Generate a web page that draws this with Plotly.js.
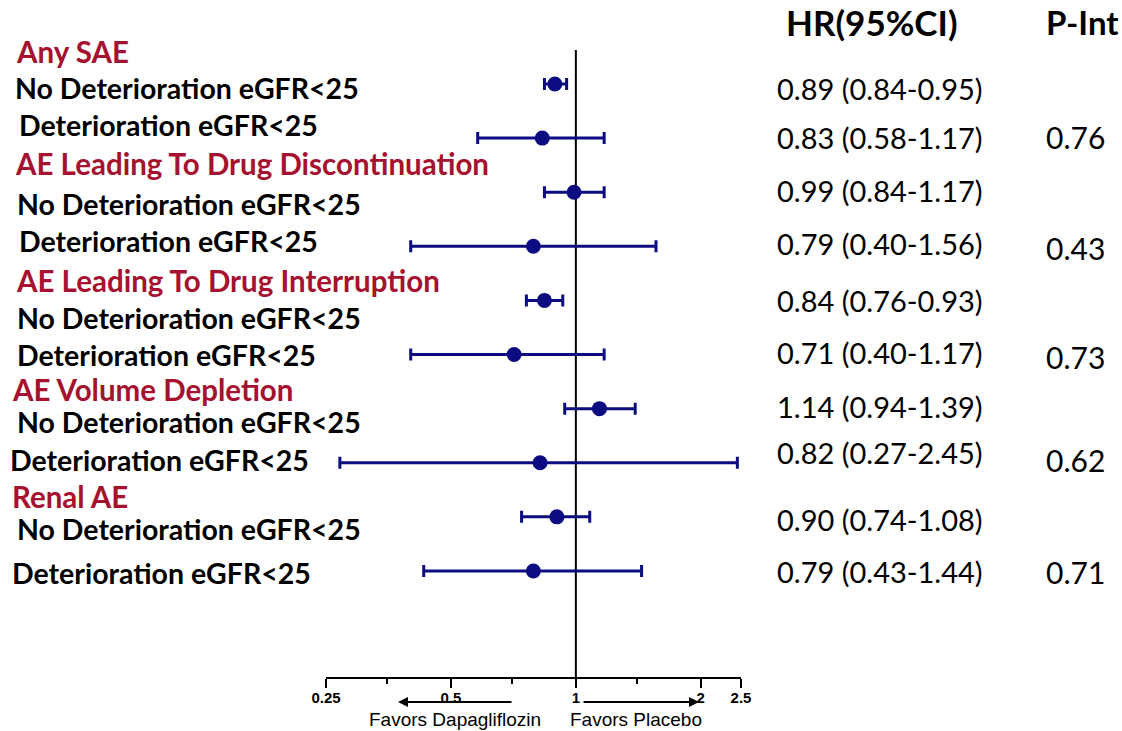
<!DOCTYPE html>
<html>
<head>
<meta charset="utf-8">
<script src="https://cdn.plot.ly/plotly-3.0.1.min.js"></script>
<style>html,body{margin:0;padding:0;background:#fff;}#chart{width:1122px;height:731px;}</style>
</head>
<body>
<div id="chart"></div>
<script>
// ---- data ----
const groups = ["Any SAE", "AE Leading To Drug Discontinuation", "AE Leading To Drug Interruption", "AE Volume Depletion", "Renal AE"];
const subgroups = ["No Deterioration eGFR<25", "Deterioration eGFR<25"];
const hr = [0.89, 0.83, 0.99, 0.79, 0.84, 0.71, 1.14, 0.82, 0.90, 0.79];
const lo = [0.84, 0.58, 0.84, 0.40, 0.76, 0.40, 0.94, 0.27, 0.74, 0.43];
const hi = [0.95, 1.17, 1.17, 1.56, 0.93, 1.17, 1.39, 2.45, 1.08, 1.44];
const pInt = ["0.76", "0.43", "0.73", "0.62", "0.71"];
const tickVals = [0.25, 0.5, 1, 2, 2.5];
const tickText = ["0.25", "0.5", "1", "2", "2.5"];
const minorTickVals = [0.35, 0.7, 1.4];
const leftLabel = "Favors Dapagliflozin";
const rightLabel = "Favors Placebo";
const hrHeader = "HR(95%CI)";
const pHeader = "P-Int";

// ---- layout constants (pixels) ----
const W = 1122, H = 731;
const NAVY = "#0c0c80", RED = "#a5112e";
const rowIdx = hr.map((_, i) => i);
const yRange = [10.96, -0.628];
const px = v => v / W;
const py = v => 1 - v / H;
const headerPos = [[14, 52], [13, 163], [14, 281], [10, 389], [10, 496]];
const noDetPos = [[13, 88], [15, 204], [15, 318], [15, 422], [15, 529]];
const detPos = [[17, 125], [17, 241], [15, 355], [8, 460], [10, 573]];
const hrTextY = [88, 137, 190, 244, 300, 352, 407, 452, 519, 571];
const pTextY = [137, 248, 357, 460, 572];

const FAM = "Lato, 'Open Sans', sans-serif";
const labelFont = {family: FAM, size: 28.5, color: "#000", weight: 700};
const headFont = {family: FAM, size: 29.5, color: RED, weight: 700};
const numFont = {family: FAM, size: 29, color: "#000"};
const pFont = {family: FAM, size: 30, color: "#000"};

const annotations = [];
groups.forEach((g, k) => {
  annotations.push({text: g, xref: "paper", yref: "paper", x: px(headerPos[k][0]), y: py(headerPos[k][1]),
    xanchor: "left", yanchor: "middle", showarrow: false, font: headFont});
  annotations.push({text: subgroups[0], xref: "paper", yref: "paper", x: px(noDetPos[k][0]), y: py(noDetPos[k][1]),
    xanchor: "left", yanchor: "middle", showarrow: false, font: labelFont});
  annotations.push({text: subgroups[1], xref: "paper", yref: "paper", x: px(detPos[k][0]), y: py(detPos[k][1]),
    xanchor: "left", yanchor: "middle", showarrow: false, font: labelFont});
  annotations.push({text: pInt[k], xref: "paper", yref: "paper", x: px(1044), y: py(pTextY[k]),
    xanchor: "left", yanchor: "middle", showarrow: false, font: pFont});
});
hr.forEach((v, i) => {
  annotations.push({text: v.toFixed(2) + " (" + lo[i].toFixed(2) + "-" + hi[i].toFixed(2) + ")",
    xref: "paper", yref: "paper", x: px(775), y: py(hrTextY[i]),
    xanchor: "left", yanchor: "middle", showarrow: false, font: numFont});
});
annotations.push({text: hrHeader, xref: "paper", yref: "paper", x: px(872), y: py(22), xanchor: "center", yanchor: "middle",
  showarrow: false, font: {family: FAM, size: 35, color: "#000", weight: 700}});
annotations.push({text: pHeader, xref: "paper", yref: "paper", x: px(1082), y: py(22), xanchor: "center", yanchor: "middle",
  showarrow: false, font: {family: FAM, size: 33, color: "#000", weight: 700}});
// arrows
annotations.push({text: "", xref: "paper", yref: "paper", x: px(398), y: py(702), ax: 115, ay: 0,
  showarrow: true, arrowhead: 2, arrowsize: 1, arrowwidth: 2, arrowcolor: "#000"});
annotations.push({text: "", xref: "paper", yref: "paper", x: px(699), y: py(702), ax: -117, ay: 0,
  showarrow: true, arrowhead: 2, arrowsize: 1, arrowwidth: 2, arrowcolor: "#000"});
annotations.push({text: leftLabel, xref: "paper", yref: "paper", x: px(455), y: py(719), xanchor: "center", yanchor: "middle",
  showarrow: false, font: {family: "Liberation Sans, Arial, sans-serif", size: 19, color: "#000"}});
annotations.push({text: rightLabel, xref: "paper", yref: "paper", x: px(636), y: py(719), xanchor: "center", yanchor: "middle",
  showarrow: false, font: {family: "Liberation Sans, Arial, sans-serif", size: 19, color: "#000"}});

const traces = [
  {x: [1, 1], y: yRange, mode: "lines", line: {color: "#000", width: 2}, hoverinfo: "skip", showlegend: false},
  {x: hr, y: rowIdx, mode: "markers", type: "scatter", showlegend: false,
   marker: {color: NAVY, size: 15, symbol: "circle"},
   error_x: {type: "data", symmetric: false, array: hi.map((h, i) => h - hr[i]), arrayminus: lo.map((l, i) => hr[i] - l),
     color: NAVY, thickness: 3, width: 6}}
];

const layout = {
  width: W, height: H, margin: {l: 0, r: 0, t: 0, b: 0},
  paper_bgcolor: "#fff", plot_bgcolor: "#fff", showlegend: false,
  xaxis: {type: "log", range: [Math.log10(0.25), Math.log10(2.5)], domain: [px(326), px(741)],
    tickmode: "array", tickvals: tickVals, ticktext: tickText.map(t => "<b>" + t + "</b>"),
    ticks: "outside", ticklen: 9, tickwidth: 2, tickcolor: "#000", ticklabelstandoff: -3,
    minor: {tickmode: "array", tickvals: minorTickVals, ticks: "outside", ticklen: 5, tickwidth: 2, tickcolor: "#000", showgrid: false},
    showline: true, linecolor: "#000", linewidth: 2, showgrid: false, zeroline: false,
    tickfont: {family: "Liberation Sans, Arial, sans-serif", size: 15, color: "#000"}, fixedrange: true},
  yaxis: {range: yRange, domain: [py(677), py(50)], visible: false, showgrid: false, zeroline: false, fixedrange: true},
  annotations: annotations
};

Plotly.newPlot("chart", traces, layout, {displayModeBar: false, staticPlot: true});
</script>
</body>
</html>
